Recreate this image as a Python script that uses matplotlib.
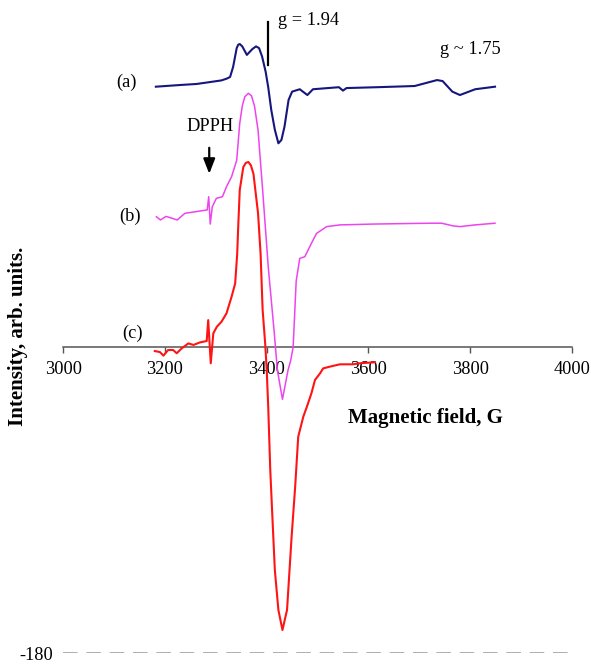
import matplotlib
matplotlib.use('Agg')
import matplotlib.pyplot as plt

# fonts / style
plt.rcParams['font.family'] = ['Liberation Serif', 'DejaVu Serif']
plt.rcParams['lines.scale_dashes'] = False
plt.rcParams['axes.unicode_minus'] = False

# spectrum (a)
field_a = [3182, 3230, 3262, 3288, 3311, 3321, 3328, 3334, 3341, 3344, 3347, 3352, 3361,
           3372, 3379, 3385, 3391, 3398, 3403, 3409, 3416, 3423, 3429, 3435, 3443, 3450,
           3465, 3480, 3491, 3542, 3550, 3557, 3617, 3691, 3735, 3746, 3765, 3780, 3810, 3849]
int_a = [153.3, 154.3, 154.9, 156, 157, 158, 159, 165, 176, 178, 178.4, 177, 172,
         175.5, 177, 176, 171, 162, 153, 139.6, 128, 120, 122, 129.8, 145.5, 150.4,
         151.8, 148.4, 151.8, 153, 151, 152.5, 153, 153.7, 157.2, 156.6, 150.4, 148.4, 151.8, 153.3]

# spectrum (b)
field_b = [3183, 3191, 3202, 3213, 3224, 3239, 3261, 3283, 3286, 3289, 3293, 3301, 3313,
           3321, 3331, 3341, 3347, 3352, 3357, 3364, 3370, 3376, 3383, 3393, 3403, 3415, 3421, 3431,
           3442, 3447, 3452, 3458, 3465, 3475, 3488, 3498, 3518, 3544, 3610, 3721, 3744,
           3767, 3780, 3810, 3849]
int_b = [76.8, 74.9, 77, 76, 74.9, 78.8, 79.8, 80.8, 88.6, 72.5, 82.7, 87.6, 88.6,
         94.5, 100.4, 110, 131.8, 142, 147.4, 149.4, 148, 142, 127.8, 88.6, 47.4, 8.2, -13.4, -30.6,
         -13.4, -8, 0, 39, 52.3, 53.3, 61.2, 67, 71, 72, 72.5, 73, 73,
         71.4, 71, 72, 73]

# spectrum (c)
field_c = [3180, 3190, 3197, 3206, 3216, 3223, 3233, 3246, 3256, 3269, 3282, 3285, 3290,
           3295, 3302, 3311, 3321, 3331, 3338, 3342, 3344, 3347, 3354, 3359, 3364, 3369, 3374, 3383,
           3388, 3392, 3397, 3400, 3403, 3407, 3410, 3416, 3423, 3431, 3440, 3449, 3456,
           3462, 3472, 3479, 3488, 3495, 3505, 3511, 3524, 3544, 3570, 3583, 3613]
int_c = [-2.2, -2.8, -4.9, -1.6, -1.6, -3.5, -0.6, 2.3, 1.4, 2.9, 3.7, 16, -9.4,
         8.2, 12.1, 15, 20, 29.8, 37.6, 55, 71, 92.5, 106, 108.5, 109, 107, 102, 78.8,
         55, 22, 2.3, -13, -35, -72, -92, -131, -154.5, -166.3, -154.5, -111.4, -82,
         -52.6, -40.8, -35, -27, -19.2, -15.3, -12.4, -11.4, -10, -10, -9.4, -8.8]

xticks = [3000, 3200, 3400, 3600, 3800, 4000]

fig = plt.figure(figsize=(5.91, 6.64), dpi=100)
ax = fig.add_axes([0.1071, 0.0161, 0.8604, 0.9729])

ax.plot(field_a, int_a, color='#16167c', lw=1.5, zorder=3)
ax.plot(field_b, int_b, color='#ee44ee', lw=1.1, zorder=3)
ax.plot(field_c, int_c, color='#ff1414', lw=1.5, zorder=4)

ax.set_xlim(3000, 4000)
ax.set_ylim(-180, 200)

# axis through zero, only -180 shown on y
for s in ['top', 'right', 'left']:
    ax.spines[s].set_visible(False)
ax.spines['bottom'].set_position(('data', 0))
ax.spines['bottom'].set_color('#555555')
ax.spines['bottom'].set_linewidth(1.1)
ax.spines['bottom'].set_zorder(1)
ax.set_xticks(xticks)
ax.tick_params(axis='x', direction='out', length=4, width=1, color='#555555',
               labelsize=13.2, pad=6)
ax.set_yticks([-180])
ax.tick_params(axis='y', length=0, labelsize=13.2, pad=7)
ax.axhline(-180, color='#999999', lw=1.1, linestyle=(0, (10.5, 6.3)), zorder=0)

# labels
ax.text(3125, 156, '(a)', fontsize=13.2, ha='center', va='center')
ax.text(3132, 76.8, '(b)', fontsize=13.2, ha='center', va='center')
ax.text(3136, 8.2, '(c)', fontsize=13.2, ha='center', va='center')
ax.text(3422, 192.5, 'g = 1.94', fontsize=13.2, ha='left', va='center')
ax.text(3741, 174.9, 'g ~ 1.75', fontsize=13.2, ha='left', va='center')
ax.text(3288, 129.6, 'DPPH', fontsize=13.2, ha='center', va='center')
ax.plot([3402, 3402], [166, 191.5], color='black', lw=1.6)
ax.annotate('', xy=(3287, 100.4), xytext=(3287, 119),
            arrowprops=dict(arrowstyle='-|>,head_width=0.35,head_length=0.9',
                            color='black', lw=1.6))

ax.text(3712, -41.8, 'Magnetic field, G', fontsize=15, fontweight='bold',
        ha='center', va='center')
fig.text(18 / 591, 1 - 336 / 664, 'Intensity, arb. units.', fontsize=15,
         fontweight='bold', rotation=90, ha='center', va='center')

fig.savefig('out.png', dpi=100)
